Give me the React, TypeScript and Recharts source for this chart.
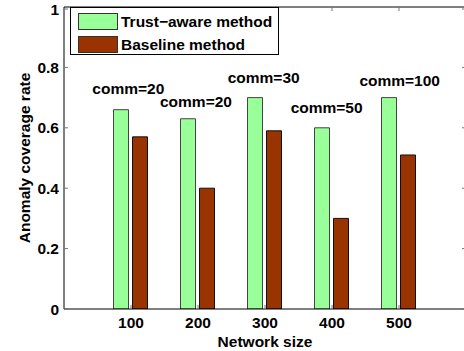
import React from "react";
import {
  BarChart,
  Bar,
  XAxis,
  YAxis,
  Legend,
  ReferenceDot,
} from "recharts";

// Network sizes (x categories)
const networkSizes = [100, 200, 300, 400, 500];
// Anomaly coverage rate per method
const trustAware = [0.66, 0.63, 0.7, 0.6, 0.7];
const baseline = [0.57, 0.4, 0.59, 0.3, 0.51];
// Series names, in legend order
const seriesNames = ["Trust−aware method", "Baseline method"];
// Community annotations placed above each group (data coordinates)
const commText = ["comm=20", "comm=20", "comm=30", "comm=50", "comm=100"];
const commX = [96, 197, 298, 392, 501];
const commY = [0.713, 0.668, 0.748, 0.648, 0.737];

const yTicks = [0, 0.2, 0.4, 0.6, 0.8, 1];
const yTickLabels = ["0", "0.2", "0.4", "0.6", "0.8", "1"];

const GREEN = "#99FF99";
const BROWN = "#993300";
const FONT = "'Liberation Sans', Arial, Helvetica, sans-serif";
const FS = 15.5;

const data = networkSizes.map((size, i) => ({
  size,
  trust: trustAware[i],
  base: baseline[i],
}));

const BottomTick = (props: any) => {
  const { x, y, payload } = props;
  return (
    <g>
      <line x1={x} y1={y} x2={x} y2={y - 4} stroke="#777" strokeWidth={1} />
      <text
        x={x}
        y={y + 19}
        textAnchor="middle"
        fontFamily={FONT}
        fontWeight="bold"
        fontSize={FS}
        fill="#000"
      >
        {payload.value}
      </text>
    </g>
  );
};

const TopTick = (props: any) => {
  const { x, y } = props;
  return <line x1={x} y1={y} x2={x} y2={y + 4} stroke="#777" strokeWidth={1} />;
};

const LeftTick = (props: any) => {
  const { x, y, payload } = props;
  return (
    <g>
      <line x1={x} y1={y} x2={x + 4} y2={y} stroke="#777" strokeWidth={1} />
      <text
        x={x - 5}
        y={y + 5.5}
        textAnchor="end"
        fontFamily={FONT}
        fontWeight="bold"
        fontSize={FS}
        fill="#000"
      >
        {yTickLabels[yTicks.indexOf(payload.value)] ?? String(payload.value)}
      </text>
    </g>
  );
};

const RightTick = (props: any) => {
  const { x, y } = props;
  return <line x1={x} y1={y} x2={x - 4} y2={y} stroke="#777" strokeWidth={1} />;
};

const YLabel = (props: any) => {
  const vb = props.viewBox || { x: 0, y: 0, width: 0, height: 0 };
  const cx = vb.x + 29.5;
  const cy = vb.y + vb.height / 2;
  return (
    <text
      x={cx}
      y={cy}
      transform={`rotate(-90, ${cx}, ${cy})`}
      textAnchor="middle"
      fontFamily={FONT}
      fontWeight="bold"
      fontSize={FS}
      fill="#000"
    >
      Anomaly coverage rate
    </text>
  );
};

const XLabel = (props: any) => {
  const vb = props.viewBox || { x: 0, y: 0, width: 0, height: 0 };
  return (
    <text
      x={vb.x + vb.width / 2}
      y={vb.y + vb.height - 4.5}
      textAnchor="middle"
      fontFamily={FONT}
      fontWeight="bold"
      fontSize={FS}
      fill="#000"
    >
      Network size
    </text>
  );
};

const LegendBox = (props: any) => {
  const raw = props.payload || [];
  const items = seriesNames
    .map((n) => raw.find((p: any) => p.value === n))
    .filter(Boolean);
  return (
    <div
      style={{
        boxSizing: "border-box",
        width: 209,
        height: 48,
        border: "1px solid #000",
        background: "#fff",
        fontFamily: FONT,
        fontWeight: "bold",
        fontSize: FS,
        position: "relative",
      }}
    >
      {items.map((it: any, i: number) => (
        <div
          key={i}
          style={{
            position: "absolute",
            left: 7,
            top: 5 + i * 22.5,
            height: 17,
            display: "flex",
            alignItems: "center",
            whiteSpace: "nowrap",
          }}
        >
          <span
            style={{
              display: "inline-block",
              boxSizing: "border-box",
              width: 40,
              height: 17,
              background: it.color,
              border: "1px solid #333",
              marginRight: 3,
            }}
          />
          <span style={{ lineHeight: "17px", color: "#000" }}>{it.value}</span>
        </div>
      ))}
    </div>
  );
};

const CommLabel = (props: any) => {
  const { cx, cy, text } = props;
  return (
    <text
      x={cx}
      y={cy}
      textAnchor="middle"
      fontFamily={FONT}
      fontWeight="bold"
      fontSize={FS}
      fill="#000"
    >
      {text}
    </text>
  );
};

export default function App() {
  return (
    <div
      style={{
        position: "absolute",
        left: 0,
        top: 0,
        width: 464,
        height: 351,
        overflow: "hidden",
        background: "#fff",
      }}
    >
      <BarChart
        width={470}
        height={351}
        data={data}
        margin={{ top: 6, right: 3, left: 0, bottom: 0 }}
        barSize={15}
        barGap={4}
      >
        <XAxis
          dataKey="size"
          type="number"
          domain={[0, 600]}
          ticks={networkSizes}
          allowDataOverflow
          height={42}
          tickSize={0}
          tickMargin={0}
          tickLine={false}
          tick={<BottomTick />}
          axisLine={{ stroke: "#000", strokeWidth: 1 }}
          label={<XLabel />}
        />
        <XAxis
          xAxisId="top"
          orientation="top"
          dataKey="size"
          type="number"
          domain={[0, 600]}
          ticks={networkSizes}
          allowDataOverflow
          height={1}
          tickSize={0}
          tickMargin={0}
          tickLine={false}
          tick={<TopTick />}
          axisLine={{ stroke: "#000", strokeWidth: 1 }}
        />
        <YAxis
          type="number"
          domain={[0, 1]}
          ticks={yTicks}
          allowDataOverflow
          width={64}
          tickSize={0}
          tickMargin={0}
          tickLine={false}
          tick={<LeftTick />}
          axisLine={{ stroke: "#000", strokeWidth: 1 }}
          label={<YLabel />}
        />
        <YAxis
          yAxisId="right"
          orientation="right"
          type="number"
          domain={[0, 1]}
          ticks={yTicks}
          allowDataOverflow
          width={1}
          tickSize={0}
          tickMargin={0}
          tickLine={false}
          tick={<RightTick />}
          axisLine={{ stroke: "#000", strokeWidth: 1 }}
        />
        <Legend
          layout="vertical"
          align="center"
          verticalAlign="middle"
          wrapperStyle={{ position: "absolute", left: 70, top: 7, width: 209 }}
          content={<LegendBox />}
        />
        <Bar
          dataKey="trust"
          name={seriesNames[0]}
          fill={GREEN}
          stroke="#444"
          strokeWidth={1}
          isAnimationActive={false}
        />
        <Bar
          dataKey="base"
          name={seriesNames[1]}
          fill={BROWN}
          stroke="#111"
          strokeWidth={1}
          isAnimationActive={false}
        />
        {commText.map((t, i) => (
          <ReferenceDot
            key={t + i}
            x={commX[i]}
            y={commY[i]}
            r={0}
            ifOverflow="visible"
            shape={(p: any) => <CommLabel {...p} text={t} />}
          />
        ))}
      </BarChart>
    </div>
  );
}
